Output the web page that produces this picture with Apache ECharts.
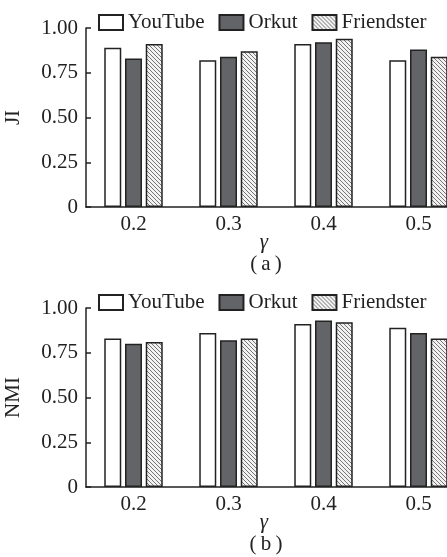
<!DOCTYPE html>
<html>
<head>
<meta charset="utf-8">
<script src="https://cdn.jsdelivr.net/npm/echarts@6/dist/echarts.min.js"></script>
<style>
  html, body { margin: 0; padding: 0; background: #fff; }
  #chart { width: 447px; height: 557px; }
</style>
</head>
<body>
<div id="chart"></div>
<script>
// γ categories
const gammas = ['0.2', '0.3', '0.4', '0.5']
const seriesNames = ['YouTube', 'Orkut', 'Friendster']

// (a) JI
const jiYouTube = [0.89, 0.82, 0.91, 0.82]
const jiOrkut = [0.83, 0.84, 0.92, 0.88]
const jiFriendster = [0.91, 0.87, 0.94, 0.84]

// (b) NMI
const nmiYouTube = [0.83, 0.86, 0.91, 0.89]
const nmiOrkut = [0.80, 0.82, 0.93, 0.86]
const nmiFriendster = [0.81, 0.83, 0.92, 0.83]

const serif = '"Liberation Serif", "Times New Roman", serif'
const fs = 21

// hatch pattern for Friendster
function makeHatch() {
  const s = 4
  const c = document.createElement('canvas')
  c.width = s
  c.height = s
  const ctx = c.getContext('2d')
  ctx.fillStyle = '#f2f2f2'
  ctx.fillRect(0, 0, s, s)
  ctx.strokeStyle = '#555'
  ctx.lineWidth = 0.8
  ctx.beginPath()
  ctx.moveTo(-1, -1); ctx.lineTo(s + 1, s + 1)
  ctx.moveTo(-1, s - 1); ctx.lineTo(1, s + 1)
  ctx.moveTo(s - 1, -1); ctx.lineTo(s + 1, 1)
  ctx.stroke()
  return c
}
const hatch = { image: makeHatch(), repeat: 'repeat' }

const fills = {
  YouTube: '#ffffff',
  Orkut: '#626467',
  Friendster: hatch
}

const chart = echarts.init(document.getElementById('chart'))

function panel(top) {
  return {
    grid: { left: 86, top: top, width: 380, height: 179, containLabel: false, outerBoundsMode: 'none' },
    legend: {
      top: top - 16,
      left: 98,
      padding: 0,
      icon: 'rect',
      itemWidth: 24,
      itemHeight: 15,
      itemGap: 14,
      data: seriesNames,
      textStyle: { fontFamily: serif, fontSize: fs, color: '#222' }
    }
  }
}

function xAxis(idx) {
  return {
    type: 'category',
    gridIndex: idx,
    data: gammas,
    name: 'γ',
    nameLocation: 'middle',
    nameGap: 25,
    nameMoveOverlap: false,
    nameTextStyle: { fontFamily: serif, fontSize: fs, fontStyle: 'italic', color: '#222', padding: [0, 24, 0, 0] },
    axisLine: { lineStyle: { color: '#222', width: 1.5 } },
    axisTick: { show: false },
    axisLabel: { fontFamily: serif, fontSize: fs, color: '#222', margin: 7 }
  }
}

function yAxis(idx, name) {
  return {
    type: 'value',
    gridIndex: idx,
    min: 0,
    max: 1,
    interval: 0.25,
    name: name,
    nameLocation: 'middle',
    nameGap: 62,
    nameMoveOverlap: false,
    nameTextStyle: { fontFamily: serif, fontSize: fs, color: '#222' },
    axisLine: { show: true, lineStyle: { color: '#222', width: 1.5 } },
    axisTick: { show: true, inside: true, length: 5, lineStyle: { color: '#222', width: 1.5 } },
    splitLine: { show: false },
    axisLabel: {
      fontFamily: serif, fontSize: fs, color: '#222', margin: 8,
      formatter: v => (v === 0 ? '0' : v.toFixed(2))
    }
  }
}

function bars(idx, name, data) {
  return {
    name: name,
    type: 'bar',
    xAxisIndex: idx,
    yAxisIndex: idx,
    data: data,
    barWidth: 17,
    barGap: '22%',
    itemStyle: { color: fills[name], borderColor: '#222', borderWidth: 1.5 }
  }
}

function caption(letter, y) {
  return {
    type: 'text', x: 266, y: y,
    style: {
      text: '(\u2009' + letter + '\u2009)',
      font: fs + 'px ' + serif,
      fill: '#222',
      align: 'center', verticalAlign: 'middle'
    }
  }
}

const pa = panel(28)
const pb = panel(308)

const option = {
  backgroundColor: '#fff',
  animation: false,
  grid: [pa.grid, pb.grid],
  legend: [pa.legend, pb.legend],
  xAxis: [xAxis(0), xAxis(1)],
  yAxis: [yAxis(0, 'JI'), yAxis(1, 'NMI')],
  series: [
    bars(0, 'YouTube', jiYouTube),
    bars(0, 'Orkut', jiOrkut),
    bars(0, 'Friendster', jiFriendster),
    bars(1, 'YouTube', nmiYouTube),
    bars(1, 'Orkut', nmiOrkut),
    bars(1, 'Friendster', nmiFriendster)
  ],
  graphic: [caption('a', 264), caption('b', 544)]
}

chart.setOption(option)
window.addEventListener('resize', () => { chart.resize() })
</script>
</body>
</html>
